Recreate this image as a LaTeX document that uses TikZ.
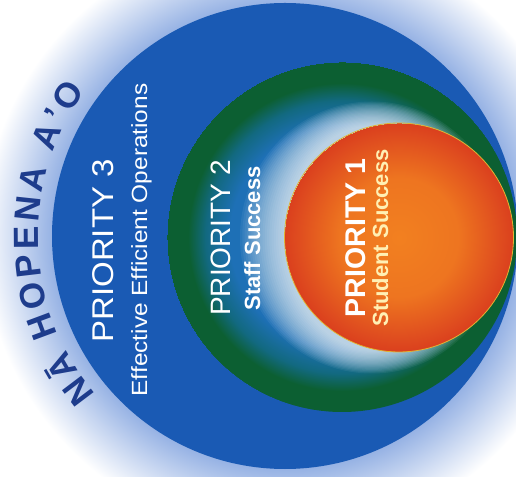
\documentclass[tikz,border=0pt]{standalone}
\usepackage{fontspec}
\setsansfont{Liberation Sans}
\usetikzlibrary{decorations.text}
\definecolor{HaloBlue}{RGB}{150,178,228}
\definecolor{RingBlue}{RGB}{26,90,180}
\definecolor{InnerBlue}{RGB}{30,112,182}
\definecolor{RingTeal}{RGB}{18,105,128}
\definecolor{RingGreen}{RGB}{12,95,50}
\definecolor{CoreOrange}{RGB}{242,128,32}
\definecolor{CoreRed}{RGB}{214,52,30}
\definecolor{RimYellow}{RGB}{225,180,50}
\definecolor{TitleNavy}{RGB}{30,60,140}
\definecolor{CreamText}{RGB}{255,240,180}
\pgfdeclareradialshading{haloshade}{\pgfpointorigin}{color(0bp)=(HaloBlue); color(19.2bp)=(HaloBlue); color(21.5bp)=(HaloBlue!60!white); color(25bp)=(white)}
\pgfdeclareradialshading{greenshade}{\pgfpointorigin}{color(0bp)=(InnerBlue); color(16bp)=(InnerBlue); color(19.5bp)=(RingTeal); color(22bp)=(RingGreen); color(25bp)=(RingGreen)}
\pgfdeclareradialshading{coreshade}{\pgfpointorigin}{color(0bp)=(CoreOrange); color(13bp)=(CoreOrange!85!CoreRed); color(25bp)=(CoreRed!85!CoreOrange)}

\begin{document}
\begin{tikzpicture}[x=1pt,y=1pt,
    lbl/.style={rotate=90,anchor=base,inner sep=0pt,text=white,font=\sffamily},
    head/.style={lbl,font=\sffamily\fontsize{28}{30}\selectfont},
    sub/.style={lbl,font=\sffamily\bfseries\fontsize{22}{24}\selectfont}]
  \useasboundingbox (0,0) rectangle (516,476);
  \clip (0,0) rectangle (516,476);
  \fill[white] (0,0) rectangle (516,476);
  \coordinate (c3) at (285,240);
  \coordinate (c2) at (342,239);
  \coordinate (c1) at (399,238.5);
  \coordinate (glow) at (372,238.5);
  % rings
  \shade[shading=haloshade] (c3) circle[radius=303];
  \fill[RingBlue] (c3) circle[radius=233];
  \shade[shading=greenshade] (c2) circle[radius=175];
  \begin{scope}
    \clip (c2) circle[radius=175];
    \foreach \i in {0,...,20}
      \fill[white,fill opacity=0.06] (glow) ellipse[x radius={87+2.25*\i}, y radius={112+1.2*\i}];
  \end{scope}
  \shadedraw[shading=coreshade,draw=RimYellow,line width=0.8pt] (c1) circle[radius=114.5];
  % title on the arc
  \path[decorate,decoration={text along path,
      text={|\sffamily\bfseries\fontsize{35}{35}\selectfont|NĀ HOPENA A’O},
      text align={fit to path},text color=TitleNavy}]
    (c3) ++(220:247) arc[start angle=220,end angle=144,radius=247];
  % labels
  \node[head] (p3) at (113,225) {\scalebox{1.1}[1]{\fontsize{30}{32}\selectfont PRIORITY 3}};
  \node[lbl,font=\sffamily\fontsize{22}{24}\selectfont] (p3txt) at (147,236) {\scalebox{1.11}[1]{Effective Efficient Operations}};
  \node[head] (p2) at (230,238) {PRIORITY 2};
  \node[sub] (p2txt) at (260,237.5) {Staff Success};
  \node[head,font=\sffamily\bfseries\fontsize{28.5}{30}\selectfont] (p1) at (365,238) {PRIORITY 1};
  \node[sub,text=CreamText] (p1txt) at (388,238) {Student Success};
\end{tikzpicture}
\end{document}
